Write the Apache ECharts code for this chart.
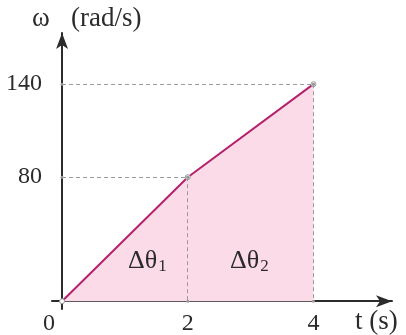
<!DOCTYPE html>
<html>
<head>
<meta charset="utf-8">
<script src="https://cdn.jsdelivr.net/npm/echarts@6/dist/echarts.min.js"></script>
<style>
  html, body { margin: 0; padding: 0; background: #fff; }
  #chart { width: 406px; height: 335px; }
</style>
</head>
<body>
<div id="chart"></div>
<script>
// data
const times = [0, 2, 4]
const omega = [0, 80, 140]
const xTicks = [0, 2, 4]
const yTicks = [80, 140]

const serif = 'Liberation Serif'
const ink = '#2b2b2b'
const dash = '#9a9a9a'

const points = times.map((t, i) => [t, omega[i]])

// dashed guide lines from each point to both axes
const guides = []
for (let i = 1; i < points.length; i++) {
  const [t, w] = points[i]
  guides.push([{ coord: [0, w] }, { coord: [t, w] }])
  guides.push([{ coord: [t, w] }, { coord: [t, 0] }])
}

const chart = echarts.init(document.getElementById('chart'))

chart.setOption({
  animation: false,
  grid: { left: 52, right: 14, top: 33, bottom: 26, containLabel: false, outerBoundsMode: 'none' },
  xAxis: {
    type: 'value',
    min: -0.16,
    max: 5.25,
    splitLine: { show: false },
    axisLine: {
      onZero: true,
      symbol: ['none', 'arrow'],
      symbolSize: [9, 16],
      lineStyle: { color: ink, width: 2 }
    },
    axisTick: { show: false },
    axisLabel: {
      customValues: xTicks,
      margin: 3,
      fontFamily: serif,
      fontSize: 24,
      color: ink,
      formatter: v => v === 0 ? '{z|0}' : String(v),
      rich: { z: { fontFamily: serif, fontSize: 24, color: ink, padding: [0, 26, 0, 0] } }
    }
  },
  yAxis: {
    type: 'value',
    min: -5,
    max: 173,
    splitLine: { show: false },
    axisLine: {
      onZero: true,
      symbol: ['none', 'arrow'],
      symbolSize: [9, 16],
      lineStyle: { color: ink, width: 2 }
    },
    axisTick: { show: false },
    axisLabel: {
      customValues: yTicks,
      margin: 10,
      fontFamily: serif,
      fontSize: 24,
      color: ink
    }
  },
  series: [
    {
      type: 'line',
      data: points,
      symbol: 'circle',
      symbolSize: 5,
      itemStyle: { color: '#ffffff', borderColor: '#999', borderWidth: 1 },
      lineStyle: { color: '#b5216b', width: 2 },
      areaStyle: { color: '#fcdbe9', opacity: 1 },
      z: 3,
      markLine: {
        silent: true,
        symbol: ['circle', 'circle'],
        symbolSize: 3,
        label: { show: false },
        lineStyle: { color: dash, type: [4, 3], width: 1 },
        data: guides
      }
    }
  ],
  graphic: [
    {
      type: 'text', left: 32, top: 5, z: 100,
      style: { text: 'ω', font: '27px "Liberation Serif"', fill: ink }
    },
    {
      type: 'text', left: 71, top: 5, z: 100,
      style: { text: '(rad/s)', font: '27px "Liberation Serif"', fill: ink }
    },
    {
      type: 'text', left: 355, top: 308, z: 100,
      style: { text: 't (s)', font: '27px "Liberation Serif"', fill: ink }
    },
    {
      type: 'text', left: 128, top: 248, z: 100,
      style: {
        text: 'Δθ{s|1}',
        font: '26px "Liberation Serif"', fill: ink,
        rich: { s: { fontFamily: serif, fontSize: 17, fill: ink, padding: [11, 0, 0, 1] } }
      }
    },
    {
      type: 'text', left: 230, top: 248, z: 100,
      style: {
        text: 'Δθ{s|2}',
        font: '26px "Liberation Serif"', fill: ink,
        rich: { s: { fontFamily: serif, fontSize: 17, fill: ink, padding: [11, 0, 0, 1] } }
      }
    }
  ]
})
</script>
</body>
</html>
